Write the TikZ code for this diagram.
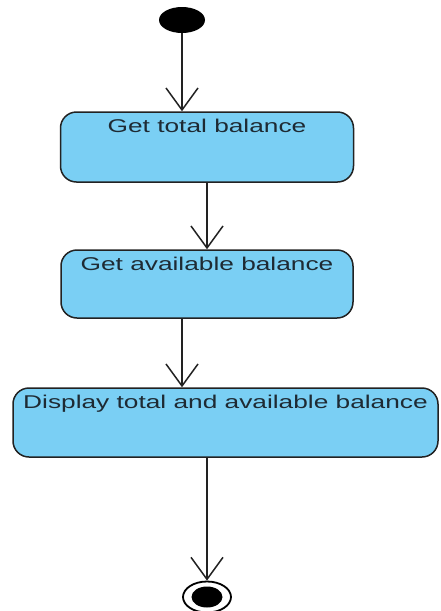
\documentclass[tikz,border=0pt]{standalone}
\usepackage{fontspec}
\setmainfont{Liberation Sans}[FakeStretch=1.42]
\usetikzlibrary{arrows.meta,shapes.geometric}

\definecolor{actfill}{HTML}{7ACFF4}
\definecolor{actline}{HTML}{222222}
\definecolor{acttext}{HTML}{1E2A33}

\tikzset{
  activity/.style={draw=actline, line width=1.5pt, fill=actfill,
    rounded corners=16pt, inner xsep=0pt, inner ysep=4pt,
    text height=16pt, text=acttext,
    font=\fontsize{18.5}{22}\selectfont},
  flow/.style={draw=actline, line width=1.6pt,
    -{Straight Barb[length=22pt,width=32pt,line width=1.5pt]}},
  startnode/.style={ellipse, fill=black, inner sep=0pt,
    minimum width=46pt, minimum height=26pt},
  endring/.style={ellipse, draw=black, line width=1.8pt, fill=white,
    inner sep=0pt, minimum width=48pt, minimum height=31pt},
  enddot/.style={ellipse, fill=black, inner sep=0pt,
    minimum width=31pt, minimum height=21pt}
}

\begin{document}
\begin{tikzpicture}[x=1pt, y=-1pt]
  \useasboundingbox (0,0) rectangle (440,611);

  % initial state
  \node[startnode] (init) at (182,20) {};

  % actions
  \node[activity, minimum width=293pt, text depth=46pt] (b1) at (207,147) {Get total balance};
  \node[activity, minimum width=292pt, text depth=44pt] (b2) at (207,284) {Get available balance};
  \node[activity, minimum width=425pt, text depth=45pt] (b3) at (225.5,422.5) {Display total and available balance};

  % final state
  \node[endring] (fin) at (207,597) {};
  \node[enddot] (findot) at (fin.center) {};

  % control flows
  \draw[flow] (init) -- (init |- b1.north);
  \draw[flow] (b1.south) -- (b2.north);
  \draw[flow] ([xshift=-25pt]b2.south) -- ([xshift=-25pt]b2.south |- b3.north);
  \draw[flow] (fin |- b3.south) -- (fin.north);
\end{tikzpicture}
\end{document}
